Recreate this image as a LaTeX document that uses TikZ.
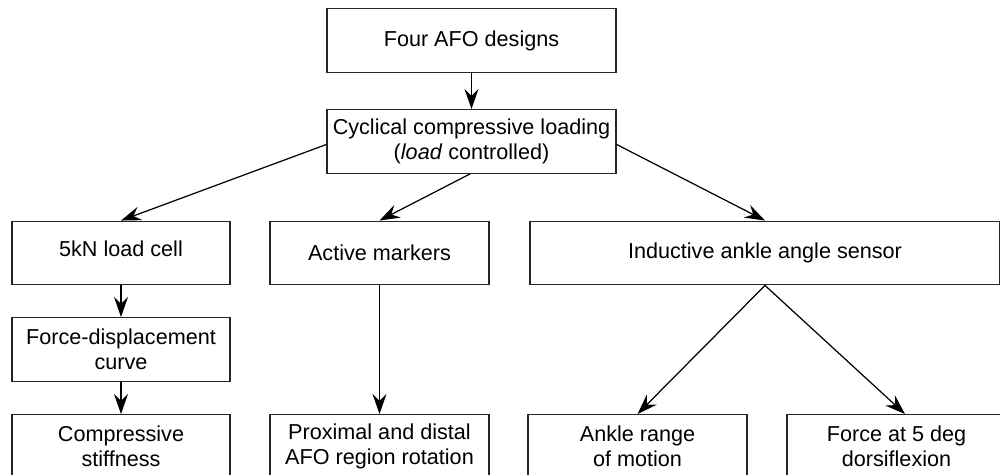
\documentclass[tikz,border=0pt]{standalone}
\usepackage{fontspec}
\setmainfont{Liberation Sans}
\usetikzlibrary{arrows.meta}
\begin{document}
\begin{tikzpicture}[x=0.02cm,y=-0.02cm,
  box/.style={draw=black!85, line width=0.8pt, rectangle, align=center,
    inner sep=0pt, minimum height=1.27cm,
    font=\fontsize{12.3pt}{14.3pt}\selectfont},
  conn/.style={draw=black, line width=0.7pt,
    -{Stealth[length=11.5pt,width=8pt,inset=4pt]}}]
\useasboundingbox (0,0) rectangle (1000,475);
\clip (0,0) rectangle (1000,475);
\fill[white] (0,0) rectangle (1000,475);

\node[box, minimum width=5.78cm] (top) at (471.5,40.5) {Four AFO designs};
\node[box, minimum width=5.78cm] (cyc) at (471.5,141.5) {Cyclical compressive loading\\(\textit{load} controlled)};
\node[box, minimum width=4.36cm] (cell) at (121,253) {\raisebox{0.16cm}{5kN load cell}};
\node[box, minimum width=4.38cm] (act) at (379.5,253) {Active markers};
\node[box, minimum width=9.40cm] (ind) at (765,253) {Inductive ankle angle sensor};
\node[box, minimum width=4.36cm] (fd) at (121,349.5) {Force-displacement\\curve};
\node[box, minimum width=4.36cm] (comp) at (121,446.5) {Compressive\\stiffness};
\node[box, minimum width=4.38cm] (prox) at (379.5,446.5) {Proximal and distal\\AFO region rotation};
\node[box, minimum width=4.38cm] (ankle) at (637.5,446.5) {Ankle range\\of motion};
\node[box, minimum width=4.38cm] (force) at (896.5,446.5) {Force at 5 deg\\dorsiflexion};

\draw[conn] (top.south) -- (cyc.north);
\draw[conn] ([yshift=-0.06cm]cyc.west) -- (cell.north);
\draw[conn] ([xshift=-0.03cm]cyc.south) -- (act.north);
\draw[conn] ([yshift=-0.06cm]cyc.east) -- (ind.north);
\draw[conn] (cell.south) -- (fd.north);
\draw[conn] (fd.south) -- (comp.north);
\draw[conn] (act.south) -- (prox.north);
\draw[conn] (ind.south) -- (ankle.north);
\draw[conn] (ind.south) -- ([xshift=0.17cm]force.north);
\end{tikzpicture}
\end{document}
